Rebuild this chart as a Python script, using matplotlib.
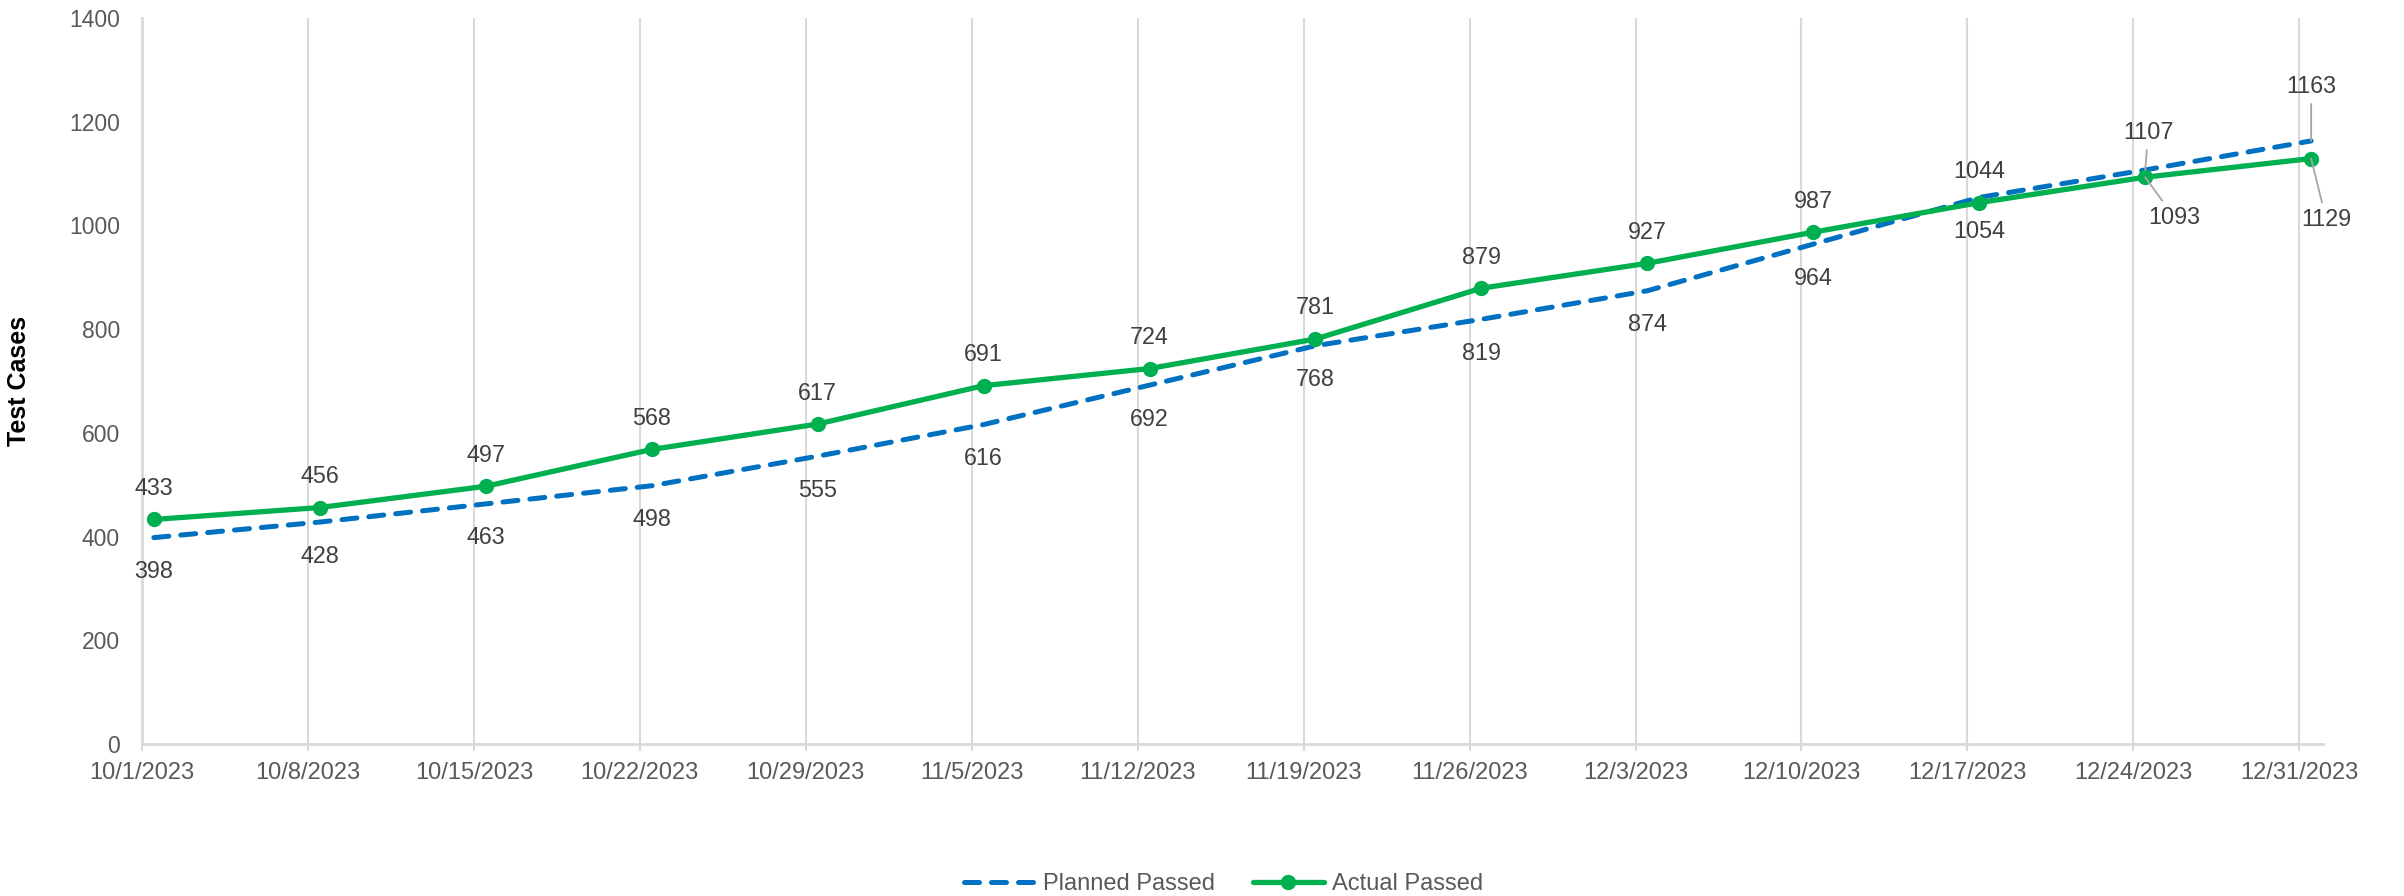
import matplotlib
matplotlib.use("Agg")
import matplotlib.pyplot as plt
import matplotlib.dates as mdates
from matplotlib.ticker import FuncFormatter
import pandas as pd

plt.rcParams['font.family'] = ['Liberation Sans', 'DejaVu Sans']

# data
dates = pd.date_range('2023-10-01', '2023-12-31', freq='7D')
planned = [398, 428, 463, 498, 555, 616, 692, 768, 819, 874, 964, 1054, 1107, 1163]
actual = [433, 456, 497, 568, 617, 691, 724, 781, 879, 927, 987, 1044, 1093, 1129]

# manually moved labels (offsets in pixels: dx, dy up)
planned_moved = {12: (3, 37), 13: (0, 54)}
actual_moved = {12: (29, -40), 13: (15, -61)}

BLUE = '#0070C0'
GREEN = '#00B050'
GRID = '#D9D9D9'
TICK_TXT = '#595959'
LBL_TXT = '#404040'

fig = plt.figure(figsize=(24.04, 8.96), dpi=100)
ax = fig.add_axes([142 / 2404, 1 - 744 / 896, 2181 / 2404, 726 / 896])

# Excel date axis puts points in the middle of the day
xs = dates + pd.Timedelta(hours=12)

ax.plot(xs, planned, color=BLUE, lw=3.6, dashes=(3.0, 2.4),
        dash_capstyle='round', label='Planned Passed', zorder=3)
ax.plot(xs, actual, color=GREEN, lw=3.8, marker='o', markersize=10,
        solid_capstyle='round', label='Actual Passed', zorder=4)


def put_labels(vals, moved, default_dy):
    for i, (x, v) in enumerate(zip(xs, vals)):
        if i in moved:
            dx, dy = moved[i]
            ax.annotate(str(v), xy=(x, v), xytext=(dx * 0.72, dy * 0.72),
                        textcoords='offset points', ha='center', va='center',
                        fontsize=16.8, color=LBL_TXT,
                        arrowprops=dict(arrowstyle='-', color='#A6A6A6', lw=1.3,
                                        shrinkA=2, shrinkB=0), zorder=5)
        else:
            ax.annotate(str(v), xy=(x, v), xytext=(0, default_dy * 0.72),
                        textcoords='offset points', ha='center', va='center',
                        fontsize=16.8, color=LBL_TXT, zorder=5)


put_labels(planned, planned_moved, -34)
put_labels(actual, actual_moved, 31)

ax.set_ylim(0, 1400)
ax.set_yticks(range(0, 1401, 200))
ax.set_xlim(dates[0], dates[-1] + pd.Timedelta(days=1))
ax.set_xticks(dates)
ax.xaxis.set_major_formatter(FuncFormatter(
    lambda v, p: '{d.month}/{d.day}/{d.year}'.format(d=mdates.num2date(v))))

ax.grid(axis='x', color=GRID, lw=1.5, zorder=0)
for s in ['top', 'right']:
    ax.spines[s].set_visible(False)
for s in ['left', 'bottom']:
    ax.spines[s].set_color(GRID)
    ax.spines[s].set_linewidth(2)

ax.tick_params(axis='x', colors=GRID, length=5, width=1.5, pad=8,
               labelcolor=TICK_TXT, labelsize=17)
ax.tick_params(axis='y', length=0, pad=16, labelcolor=TICK_TXT, labelsize=16.5)

ax.set_ylabel('Test Cases', fontsize=18, fontweight='bold', color='black')
ax.yaxis.set_label_coords(-0.051, 0.5)

fig.legend(loc='center', bbox_to_anchor=(0.509, 0.013), ncol=2, frameon=False,
           fontsize=17, labelcolor=TICK_TXT, handlelength=3.0, columnspacing=1.6,
           handletextpad=0.35)

fig.savefig('out.png', dpi=100)
